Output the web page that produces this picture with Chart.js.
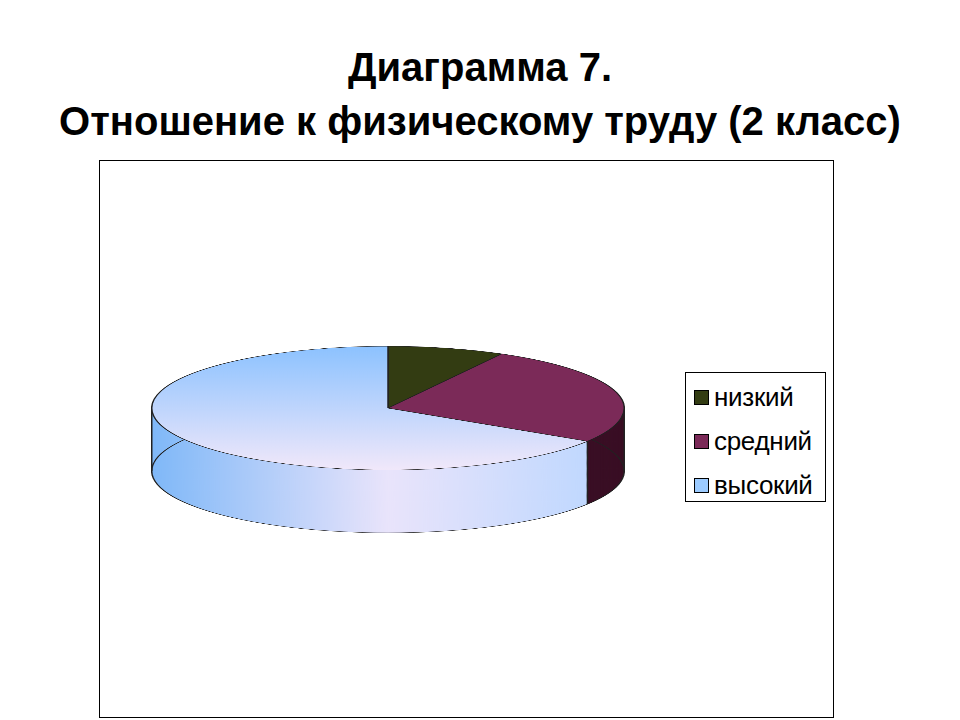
<!DOCTYPE html>
<html><head><meta charset="utf-8">
<script src="https://cdn.jsdelivr.net/npm/chart.js@4/dist/chart.umd.min.js"></script>
<style>
body{margin:0;width:960px;height:720px;background:#fff;font-family:"Liberation Sans",Arial,sans-serif;position:relative;overflow:hidden}
#title{position:absolute;left:0;top:40px;width:960px;text-align:center;font-weight:bold;font-size:40px;line-height:54px;color:#000}
#frame{position:absolute;left:99px;top:160px;width:735px;height:558px;border:1px solid #000;box-sizing:border-box}
#pieWrap{position:absolute;left:151px;top:346px;width:474px;height:714px;transform:scaleY(0.262);transform-origin:0 0}
#legend{position:absolute;left:685px;top:372px;width:141px;height:130px;border:1px solid #000;box-sizing:border-box;padding-top:2px}
.li{height:44px;display:flex;align-items:center;font-size:26px;padding-left:8px;letter-spacing:-0.3px}
.sw{width:13px;height:13px;border:1px solid #000;margin-right:5px}
</style></head><body>
<div id="title">Диаграмма 7.<br>Отношение к физическому труду (2 класс)</div>
<div id="frame"></div>
<div id="pieWrap"><canvas id="c" width="474" height="714"></canvas></div>
<div id="legend"></div>
<script>
const categories=["низкий","средний","высокий"];
const values=[8,26,66];
const topColors=["#333c12","#7b2a58","#9ccbff"];
const sideColors=["#1f2408","#3a0f25","#7fb6f5"];
const depth=240;
const lg=document.getElementById('legend');
categories.forEach((c,i)=>{lg.innerHTML+=`<div class="li"><div class="sw" style="background:${topColors[i]}"></div>${c}</div>`});
const side={id:'side',beforeDatasetsDraw(ch){
  const ctx=ch.ctx;const arcs=ch.getDatasetMeta(0).data;
  arcs.forEach((a,i)=>{
    let col=sideColors[i];
    if(i===2){const g=ctx.createLinearGradient(a.x-a.outerRadius,0,a.x+a.outerRadius,0);g.addColorStop(0,'#7fb8f8');g.addColorStop(0.5,'#e9e4fb');g.addColorStop(1,'#b9d6ff');col=g;}
    ctx.fillStyle=col;
    for(let d=depth;d>0;d-=2){ctx.beginPath();ctx.moveTo(a.x,a.y+d);ctx.arc(a.x,a.y+d,a.outerRadius,a.startAngle,a.endAngle);ctx.closePath();ctx.fill();}
    ctx.strokeStyle='#222';ctx.lineWidth=1.5;
    ctx.beginPath();ctx.arc(a.x,a.y+depth,a.outerRadius,a.startAngle,a.endAngle);ctx.stroke();
  });
  ctx.beginPath();ctx.moveTo(arcs[0].x-arcs[0].outerRadius,arcs[0].y);ctx.lineTo(arcs[0].x-arcs[0].outerRadius,arcs[0].y+depth);ctx.stroke();
  const a1=arcs[1];const ex=a1.x+a1.outerRadius*Math.cos(a1.endAngle),ey=a1.y+a1.outerRadius*Math.sin(a1.endAngle);
  ctx.beginPath();ctx.moveTo(ex,ey);ctx.lineTo(ex,ey+depth);ctx.stroke();
  ctx.beginPath();ctx.moveTo(a1.x+a1.outerRadius,a1.y);ctx.lineTo(a1.x+a1.outerRadius,a1.y+depth);ctx.stroke();
}};
new Chart(document.getElementById('c'),{type:'pie',
 data:{labels:categories,datasets:[{data:values,
  backgroundColor:(c)=>{if(c.dataIndex!==2)return topColors[c.dataIndex];const ch=c.chart;const g=ch.ctx.createLinearGradient(0,0,0,474);g.addColorStop(0,'#8cc2ff');g.addColorStop(1,'#f1e8fa');return g;},
  borderColor:'#222',borderWidth:1.5}]},
 options:{responsive:false,animation:false,layout:{padding:{bottom:depth}},
  plugins:{legend:{display:false},tooltip:{enabled:false}}},
 plugins:[side]});
</script></body></html>
